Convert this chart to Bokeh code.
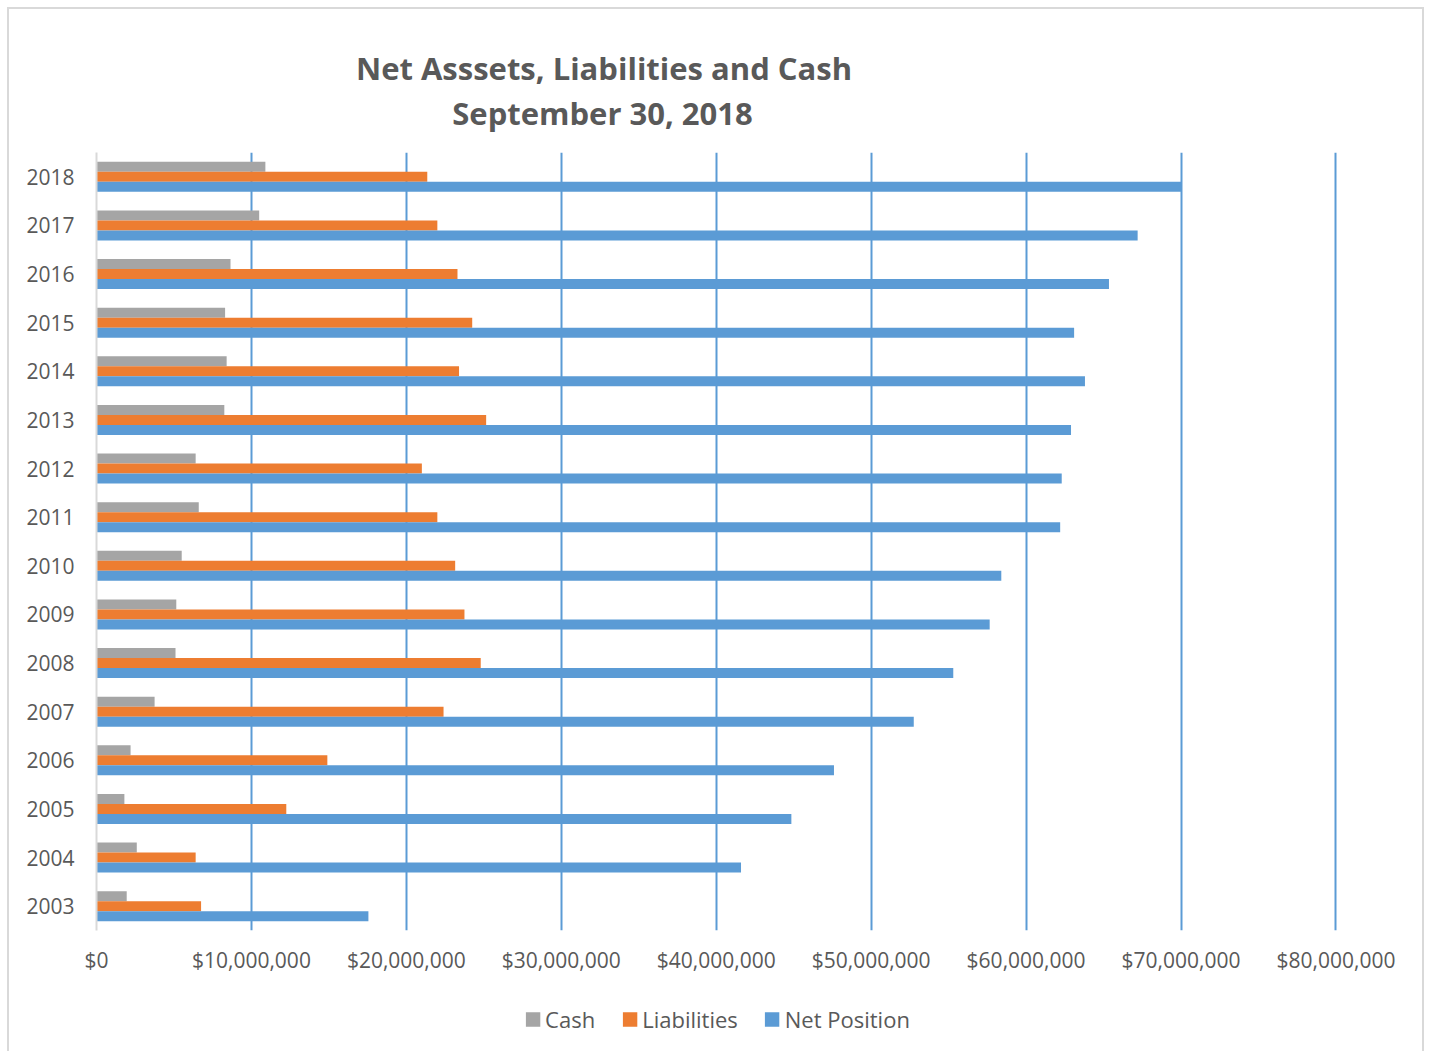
from bokeh.plotting import figure
from bokeh.layouts import column
from bokeh.models import (ColumnDataSource, FactorRange, Range1d, FixedTicker,
                          NumeralTickFormatter, Legend, LegendItem)
from bokeh.core.properties import value
from bokeh.transform import dodge
from bokeh.embed import file_html
from bokeh.resources import INLINE

# ---- data (dollars) ----
years = [str(y) for y in range(2003, 2019)]
cash = [1_950_000, 2_600_000, 1_800_000, 2_200_000, 3_750_000, 5_100_000, 5_150_000, 5_500_000,
        6_600_000, 6_400_000, 8_250_000, 8_400_000, 8_300_000, 8_650_000, 10_500_000, 10_900_000]
liabilities = [6_750_000, 6_400_000, 12_250_000, 14_900_000, 22_400_000, 24_800_000, 23_750_000,
               23_150_000, 22_000_000, 21_000_000, 25_150_000, 23_400_000, 24_250_000, 23_300_000,
               22_000_000, 21_350_000]
net_position = [17_550_000, 41_600_000, 44_850_000, 47_600_000, 52_750_000, 55_300_000, 57_650_000,
                58_400_000, 62_200_000, 62_300_000, 62_900_000, 63_800_000, 63_100_000, 65_350_000,
                67_200_000, 70_000_000]
x_ticks = [0, 10_000_000, 20_000_000, 30_000_000, 40_000_000, 50_000_000, 60_000_000, 70_000_000, 80_000_000]
series_names = ["Cash", "Liabilities", "Net Position"]
series_fields = ["cash", "liab", "net"]
series_colors = ["#A5A5A5", "#ED7D31", "#5B9BD5"]
title_lines = ["Net Asssets, Liabilities and Cash", "September 30, 2018"]

TEXT = "#595959"
FONT = "Open Sans"
BORDER = "#D9D9D9"
W = 1430
LEFT, RIGHT = 96, 93
TITLE_H = 140
LEGEND_H = 64
MAIN_H = 1051 - TITLE_H - LEGEND_H


def line(x, y, w, h):
    return f"linear-gradient({BORDER},{BORDER}) {x}px {y}px / {w}px {h}px no-repeat"


def sides(h, top=False):
    if top:
        parts = [line(7, 7, 2, h), line(1422, 7, 2, h), line(7, 7, 1417, 2)]
    else:
        parts = [line(7, 0, 2, h), line(1422, 0, 2, h)]
    return {"background": ", ".join(parts) + ", white"}


def bare(fig):
    fig.title.visible = False
    fig.outline_line_color = None
    fig.background_fill_color = None
    fig.border_fill_color = None


src = ColumnDataSource(dict(year=years, cash=cash, liab=liabilities, net=net_position))
x_range = Range1d(0, 80_100_000)

# ---------------- title strip (data units = page pixels) ----------------
tf = figure(width=W, height=TITLE_H, x_range=Range1d(LEFT, W - RIGHT), y_range=Range1d(TITLE_H, 0),
            x_axis_type=None, y_axis_type=None, output_backend="svg", toolbar_location=None,
            min_border_left=LEFT, min_border_right=RIGHT, min_border_top=0, min_border_bottom=0)
bare(tf)
tf.styles = sides(TITLE_H, top=True)
tsrc = ColumnDataSource(dict(x=[603.5, 602], y=[67.7, 112], text=title_lines))
tf.text(x="x", y="y", text="text", source=tsrc, text_align="center", text_baseline="alphabetic",
        text_font=value(FONT), text_font_style="bold", text_font_size="31px", text_color=TEXT)

# ---------------- main chart ----------------
p = figure(width=W, height=MAIN_H, y_range=FactorRange(*years), x_range=x_range,
           output_backend="svg", toolbar_location=None,
           min_border_left=LEFT, min_border_right=RIGHT, min_border_top=12,
           min_border_bottom=MAIN_H - 12 - 778)
bare(p)
p.background_fill_color = "white"
p.styles = sides(MAIN_H)

bh = 0.206
for off, field, col in zip([bh, 0, -bh], series_fields, series_colors):
    p.hbar(y=dodge("year", off, range=p.y_range), left=0, right=field, height=bh,
           source=src, fill_color=col, line_color=None)

xa = p.xaxis[0]
xa.ticker = FixedTicker(ticks=x_ticks)
xa.formatter = NumeralTickFormatter(format="$0,0")
xa.axis_line_color = None
xa.major_tick_in = 0
xa.major_tick_out = 0
xa.minor_tick_line_color = None
xa.major_label_text_font = FONT
xa.major_label_text_font_size = "21px"
xa.major_label_text_color = TEXT
xa.major_label_standoff = 15

p.xgrid.ticker = FixedTicker(ticks=x_ticks[1:])
p.xgrid.grid_line_color = "#5B9BD5"
p.xgrid.grid_line_width = 2
p.ygrid.grid_line_color = None

ya = p.yaxis[0]
ya.axis_line_color = BORDER
ya.axis_line_width = 2
ya.major_tick_in = 0
ya.major_tick_out = 0
ya.minor_tick_line_color = None
ya.major_label_text_font = FONT
ya.major_label_text_font_size = "21px"
ya.major_label_text_color = TEXT
ya.major_label_standoff = 22

# ---------------- legend strip ----------------
lf = figure(width=W, height=LEGEND_H, x_range=x_range, y_range=FactorRange(*years),
            x_axis_type=None, y_axis_type=None, output_backend="svg", toolbar_location=None,
            min_border_left=LEFT, min_border_right=RIGHT, min_border_top=0, min_border_bottom=0)
bare(lf)
lf.styles = sides(LEGEND_H)
swatches = []
for field, col in zip(series_fields, series_colors):
    r = lf.hbar(y="year", left=0, right=field, height=bh, source=src, fill_color=col, line_color=None)
    r.visible = False
    swatches.append(r)
legend = Legend(items=[LegendItem(label=value(n), renderers=[r]) for n, r in zip(series_names, swatches)],
                location="center", orientation="horizontal", padding=0, margin=0, spacing=25,
                glyph_width=18, glyph_height=18, label_standoff=4,
                label_text_font=FONT, label_text_font_size="22px", label_text_color=TEXT,
                border_line_color=None, background_fill_alpha=0)
lf.add_layout(legend, "center")

layout = column(tf, p, lf, spacing=0)
open("out.html", "w").write(file_html(layout, INLINE))
